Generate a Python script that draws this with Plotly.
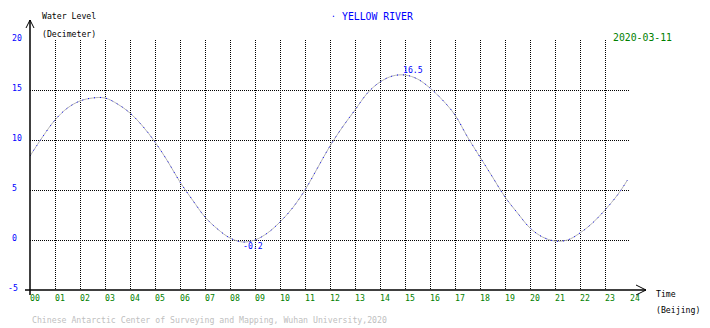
import plotly.graph_objects as go

# ---- data ----
hours = [0, 0.5, 1, 1.5, 2, 2.5, 3, 3.5, 4, 4.5, 5, 5.5, 6, 6.5, 7, 7.5, 8, 8.5, 9, 9.5,
         10, 10.5, 11, 11.5, 12, 12.5, 13, 13.5, 14, 14.5, 15, 15.5, 16, 16.5, 17, 17.5,
         18, 18.5, 19, 19.5, 20, 20.5, 21, 21.5, 22, 22.5, 23, 23.5, 23.9]
levels = [8.4, 10.3, 12.0, 13.2, 13.9, 14.2, 14.2, 13.6, 12.7, 11.4, 9.8, 7.9, 5.8, 4.0, 2.3, 1.1, 0.2, -0.2, 0.0, 0.7,
          1.8, 3.2, 5.0, 7.2, 9.4, 11.3, 13.0, 14.7, 15.8, 16.4, 16.5, 16.1, 15.2, 14.0, 12.5, 10.3,
          8.3, 6.3, 4.3, 2.7, 1.2, 0.3, -0.1, 0.0, 0.7, 1.7, 3.0, 4.5, 6.0]
x_ticks = list(range(0, 25))
x_tick_labels = [f"{h:02d}" for h in x_ticks]
y_ticks = [-5, 0, 5, 10, 15, 20]
y_tick_labels = ["-5", "0", "5", "10", "15", "20"]
title_text = "YELLOW RIVER"
date_text = "2020-03-11"
footer_text = "Chinese Antarctic Center of Surveying and Mapping, Wuhan University,2020"

W, H = 710, 328
L, R, T, B = 30, 80, 40, 38
PW, PH = W - L - R, H - T - B
MONO = "DejaVu Sans Mono"
BLUE = "#0000ff"
GREEN = "#008000"

def px(xp):
    return (xp - L) / PW

def py(yp):
    return (H - B - yp) / PH

fig = go.Figure()
fig.add_trace(go.Scatter(x=hours, y=levels, mode="lines",
                         line=dict(color="#b4b4b4", width=1, shape="spline"),
                         hoverinfo="skip"))
fig.add_trace(go.Scatter(x=hours, y=levels, mode="lines",
                         line=dict(color=BLUE, width=1, shape="spline", dash="1px,5px"),
                         hoverinfo="skip"))

# extreme labels
imax = max(range(len(levels)), key=lambda i: levels[i])
imin = min(range(len(levels)), key=lambda i: levels[i])
ann = []
ann.append(dict(x=hours[imax], y=levels[imax], text=f"{levels[imax]:.1f}", showarrow=False,
                xanchor="left", yanchor="middle", xshift=-4, yshift=5,
                font=dict(family=MONO, size=8.2, color=BLUE)))
ann.append(dict(x=hours[imin], y=levels[imin], text=f"{levels[imin]:.1f}", showarrow=False,
                xanchor="left", yanchor="middle", xshift=-2, yshift=-4,
                font=dict(family=MONO, size=8.2, color=BLUE)))

# y tick labels (left aligned)
for v, t in zip(y_ticks, y_tick_labels):
    xl = 5.5 if t.startswith("-") else 9.5
    ann.append(dict(xref="paper", yref="y", x=px(xl), y=v, text=t, showarrow=False,
                    xanchor="left", yanchor="middle", yshift=2,
                    font=dict(family=MONO, size=8.2, color=BLUE)))

def txt(xp, yp, t, size, color, anchor="left"):
    ann.append(dict(xref="paper", yref="paper", x=px(xp), y=py(yp), text=t, showarrow=False,
                    xanchor=anchor, yanchor="middle",
                    font=dict(family=MONO, size=size, color=color)))

txt(40, 16, "Water Level", 8.2, "black")
txt(40, 34, "(Decimeter)", 8.2, "black")
txt(329, 15, ".", 8, BLUE)
txt(340, 17, title_text, 9.8, BLUE)
txt(611, 37, date_text, 9.8, GREEN)
txt(654, 294, "Time", 8.2, "black")
txt(654, 310, "(Beijing)", 8.2, "black")
txt(30, 320, footer_text, 8.2, "#c0c0c0")

fig.update_layout(annotations=ann)

# axes with arrows
shapes = [
    dict(type="line", xref="paper", yref="paper", x0=px(30), x1=px(30), y0=py(295), y1=py(20),
         line=dict(color="black", width=1.5)),
    dict(type="path", xref="paper", yref="paper",
         path=f"M {px(26)} {py(28)} L {px(30)} {py(20)} L {px(34)} {py(28)}",
         line=dict(color="black", width=1)),
    dict(type="line", xref="paper", yref="paper", x0=px(25), x1=px(646), y0=py(290), y1=py(290),
         line=dict(color="black", width=1.5)),
    dict(type="path", xref="paper", yref="paper",
         path=f"M {px(636)} {py(285)} L {px(646)} {py(290)} L {px(636)} {py(295)}",
         line=dict(color="black", width=1)),
]
fig.update_layout(shapes=shapes)

fig.update_xaxes(range=[0, 24], tickvals=x_ticks, ticktext=x_tick_labels,
                 showgrid=True, gridcolor="black", gridwidth=1, griddash="1px,1px",
                 zeroline=False, showline=False, ticks="",
                 ticklabelshift=5, ticklabelstandoff=2,
                 tickfont=dict(family=MONO, size=8.2, color=GREEN))
fig.update_yaxes(range=[-5, 20], tickvals=y_ticks, showticklabels=False,
                 showgrid=True, gridcolor="black", gridwidth=1, griddash="1px,1px",
                 zeroline=False, showline=False, ticks="")

fig.update_layout(width=W, height=H, margin=dict(l=L, r=R, t=T, b=B),
                  plot_bgcolor="white", paper_bgcolor="white", showlegend=False)

fig.write_html("out.html")
